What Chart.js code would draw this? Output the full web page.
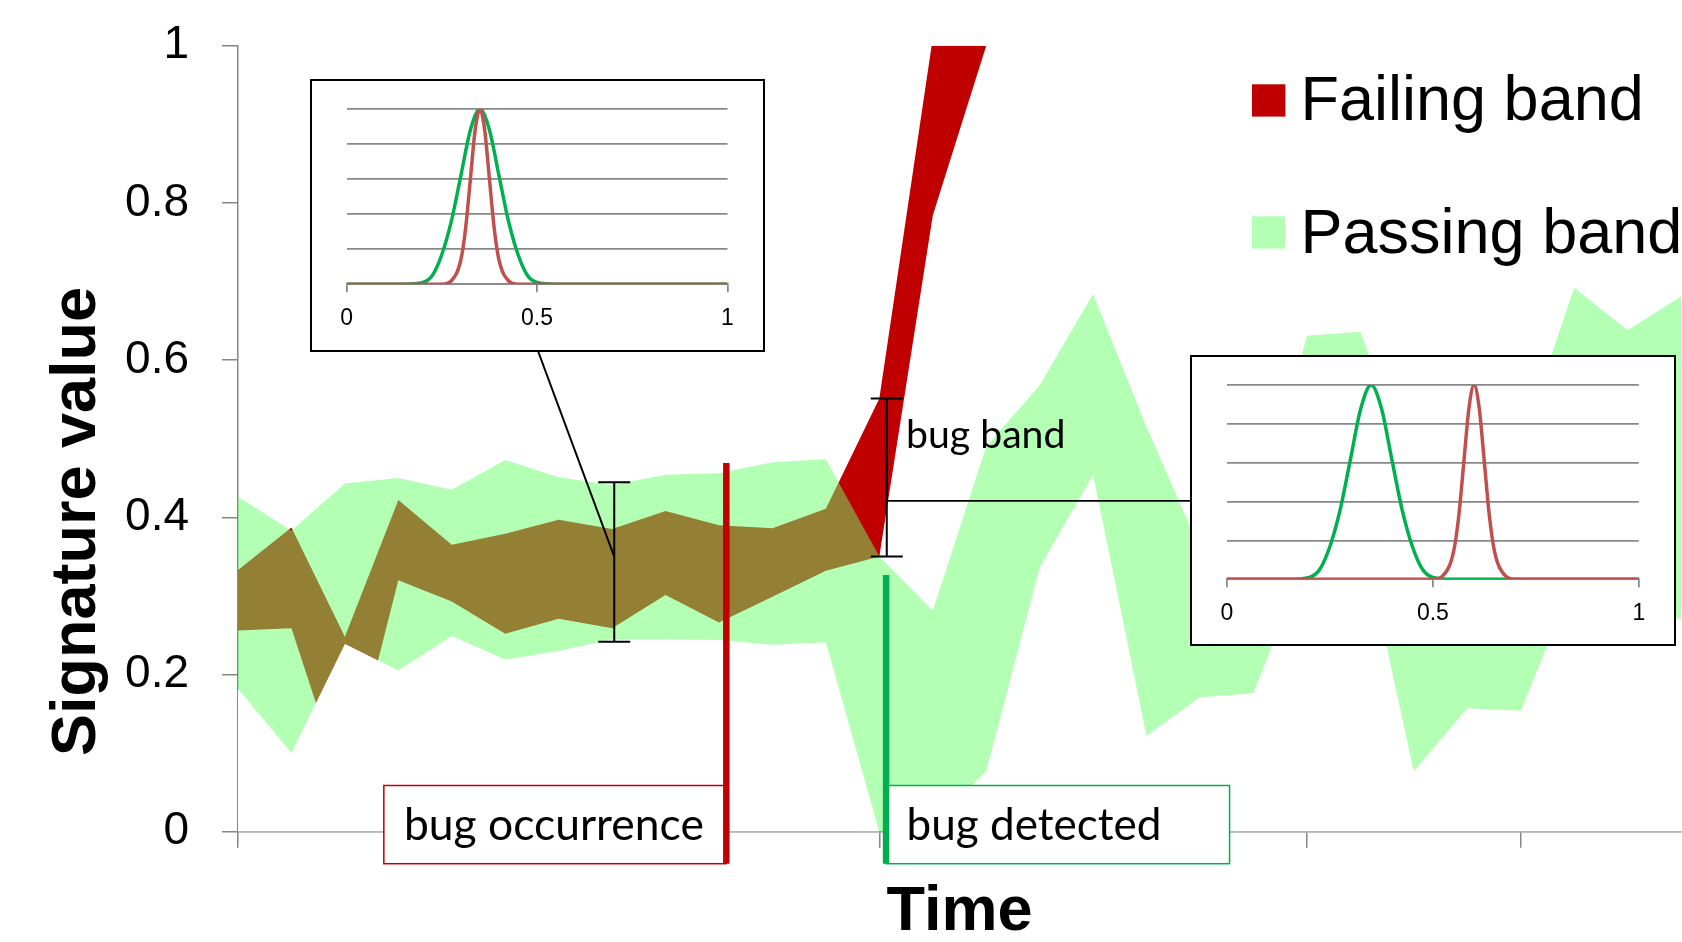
<!DOCTYPE html>
<html>
<head>
<meta charset="utf-8">
<script src="https://cdn.jsdelivr.net/npm/chart.js@4.4.1/dist/chart.umd.min.js"></script>
<style>
  html, body { margin: 0; padding: 0; background: #fff; overflow: hidden; }
  #wrap { position: relative; width: 1682px; height: 942px; }
  #mainChart { position: absolute; left: 0; top: 0; }
  .inset { position: absolute; box-sizing: border-box; border: 2px solid #000; background: #fff; }
  .inset canvas { display: block; }
</style>
</head>
<body>
<div id="wrap">
  <canvas id="mainChart" width="1682" height="942"></canvas>
  <div class="inset" style="left:310px;top:79px;width:455px;height:273px">
    <canvas id="insetChart1" width="451" height="269"></canvas>
  </div>
  <div class="inset" style="left:1189.5px;top:355px;width:486px;height:291px">
    <canvas id="insetChart2" width="482" height="287"></canvas>
  </div>
</div>
<script>
// main chart: time steps and the two bands (lower / upper edge)
const timeSteps = [0, 1, 2, 3, 4, 5, 6, 7, 8, 9, 10, 11, 12, 13, 14, 15, 16, 17, 18, 19, 20, 21, 22, 23, 24, 25, 26, 27];
const passingLow  = [0.182, 0.100, 0.239, 0.205, 0.249, 0.219, 0.230, 0.245, 0.245, 0.244, 0.238, 0.241, 0.000, 0.010,
                     0.077, 0.336, 0.454, 0.122, 0.171, 0.176, 0.350, 0.390, 0.077, 0.157, 0.154, 0.320, 0.300, 0.270];
const passingHigh = [0.426, 0.383, 0.443, 0.450, 0.435, 0.473, 0.451, 0.441, 0.454, 0.456, 0.470, 0.474, 0.350, 0.281,
                     0.490, 0.568, 0.684, 0.515, 0.360, 0.370, 0.631, 0.636, 0.454, 0.420, 0.490, 0.692, 0.638, 0.681];
const failingLow  = [0.256, 0.259, 0.051, 0.320, 0.293, 0.252, 0.271, 0.259, 0.301, 0.266, 0.299, 0.332, 0.350, 0.784,
                     1.000, 1.080, 1.100, 1.090, 1.120, 1.110, 1.130, 1.120, 1.140, 1.130, 1.150, 1.140, 1.160, 1.150];
const failingHigh = [0.333, 0.387, 0.248, 0.422, 0.365, 0.379, 0.397, 0.385, 0.408, 0.390, 0.386, 0.411, 0.551, 1.010,
                     1.350, 1.420, 1.400, 1.450, 1.430, 1.460, 1.440, 1.470, 1.450, 1.480, 1.460, 1.490, 1.470, 1.500];
const yTickValues = [0, 0.2, 0.4, 0.6, 0.8, 1];

// insets: signature distributions (normalised height)
const passDistX = [0, 0.1, 0.15, 0.2, 0.225, 0.25, 0.275, 0.3, 0.325, 0.35, 0.375, 0.4, 0.425, 0.45, 0.475, 0.5, 0.55, 0.6, 0.7, 0.8, 0.9, 1];
const passDistY = [0, 0, 0, 0.01, 0.05, 0.17, 0.36, 0.62, 0.88, 1, 0.88, 0.62, 0.36, 0.17, 0.05, 0.01, 0, 0, 0, 0, 0, 0];
const failDist1X = [0, 0.1, 0.2, 0.25, 0.275, 0.3, 0.3125, 0.325, 0.3375, 0.35, 0.3625, 0.375, 0.3875, 0.4, 0.425, 0.45, 0.5, 0.6, 0.7, 0.8, 0.9, 1];
const failDist1Y = [0, 0, 0, 0, 0.02, 0.14, 0.32, 0.6, 0.88, 1, 0.88, 0.6, 0.32, 0.14, 0.02, 0, 0, 0, 0, 0, 0, 0];
const failDist2X = [0, 0.1, 0.2, 0.3, 0.4, 0.5, 0.525, 0.55, 0.5625, 0.575, 0.5875, 0.6, 0.6125, 0.625, 0.6375, 0.65, 0.675, 0.7, 0.8, 0.9, 1];
const failDist2Y = [0, 0, 0, 0, 0, 0, 0.02, 0.14, 0.32, 0.6, 0.88, 1, 0.88, 0.6, 0.32, 0.14, 0.02, 0, 0, 0, 0];

const RED = '#c00000';
const GREEN_BAND = 'rgba(103, 255, 103, 0.5)';
const LINE_GREEN = '#00b050';
const AXIS_GRAY = '#868686';
const CALIBRI_LIKE = 'Lato';

function pts(xs, ys) {
    return xs.map((x, i) => ({ x: x, y: ys[i] }));
}

// 0.2 -> "0.2", 1 -> "1" (no trailing .0)
function shortLabel(v) {
    return String(Math.round(v * 10) / 10);
}

function fitFont(ctx, text, width, family) {
    ctx.save();
    ctx.font = '100px ' + family;
    const w = ctx.measureText(text).width;
    ctx.restore();
    return 100 * width / w;
}

// annotation anchors (x in time steps, y in signature value)
const errorBar1 = { x: 7.04, lo: 0.2417, hi: 0.4445, link: 0.35 };
const errorBar2 = { x: 12.139, lo: 0.350, hi: 0.551, link: 0.421 };
const occurrence = { x: 9.137, top: 0.469 };
const detection = { x: 12.126, top: 0.3266 };

const notesPlugin = {
    id: 'bugNotes',
    afterDraw(chart) {
        const ctx = chart.ctx;
        const xs = chart.scales.x, ys = chart.scales.y;
        ctx.save();

        // error bars + connectors to the insets
        ctx.strokeStyle = '#000';
        ctx.lineWidth = 2;
        [errorBar1, errorBar2].forEach(b => {
            const px = xs.getPixelForValue(b.x);
            const pLo = ys.getPixelForValue(b.lo), pHi = ys.getPixelForValue(b.hi);
            ctx.beginPath();
            ctx.moveTo(px, pLo); ctx.lineTo(px, pHi);
            ctx.moveTo(px - 16, pLo); ctx.lineTo(px + 16, pLo);
            ctx.moveTo(px - 16, pHi); ctx.lineTo(px + 16, pHi);
            ctx.stroke();
        });
        ctx.beginPath();
        ctx.moveTo(538, 351);
        ctx.lineTo(xs.getPixelForValue(errorBar1.x), ys.getPixelForValue(errorBar1.link));
        ctx.stroke();
        ctx.lineWidth = 1.8;
        ctx.beginPath();
        const l2 = ys.getPixelForValue(errorBar2.link);
        ctx.moveTo(xs.getPixelForValue(errorBar2.x), l2);
        ctx.lineTo(1190, l2);
        ctx.stroke();

        // boxes with labels
        const boxTop = 785.5, boxBottom = 863.7;
        const occX = xs.getPixelForValue(occurrence.x);
        const detX = xs.getPixelForValue(detection.x);
        ctx.fillStyle = '#fff';
        ctx.lineWidth = 1.5;
        ctx.fillRect(occX - 342.5, boxTop, 342.5, boxBottom - boxTop);
        ctx.strokeStyle = RED;
        ctx.strokeRect(occX - 342.5, boxTop, 342.5, boxBottom - boxTop);
        ctx.fillRect(detX, boxTop, 343.5, boxBottom - boxTop);
        ctx.strokeStyle = LINE_GREEN;
        ctx.strokeRect(detX, boxTop, 343.5, boxBottom - boxTop);

        // vertical markers
        ctx.lineWidth = 6.5;
        ctx.strokeStyle = RED;
        ctx.beginPath();
        ctx.moveTo(occX, ys.getPixelForValue(occurrence.top));
        ctx.lineTo(occX, boxBottom);
        ctx.stroke();
        ctx.strokeStyle = LINE_GREEN;
        ctx.beginPath();
        ctx.moveTo(detX, ys.getPixelForValue(detection.top));
        ctx.lineTo(detX, boxBottom);
        ctx.stroke();

        ctx.fillStyle = '#000';
        ctx.textAlign = 'left';
        ctx.textBaseline = 'alphabetic';
        [['bug occurrence', 404, 840, 300], ['bug detected', 906.5, 840, 255], ['bug band', 906, 448.3, 159.5]]
            .forEach(([t, x, y, w]) => {
                ctx.font = fitFont(ctx, t, w, CALIBRI_LIKE).toFixed(1) + 'px ' + CALIBRI_LIKE;
                ctx.fillText(t, x, y);
            });

        // legend
        const items = [chart.data.datasets[2], chart.data.datasets[0]];
        ctx.font = '63px "Liberation Sans"';
        items.forEach((ds, i) => {
            const top = i === 0 ? 84.3 : 216.3;
            ctx.fillStyle = ds.backgroundColor;
            ctx.fillRect(1252, top, 33.4, 32.3);
            ctx.fillStyle = '#000';
            ctx.fillText(ds.label, 1300.5, i === 0 ? 120 : 253);
        });

        // y axis title
        ctx.translate(78, 521.5);
        ctx.rotate(-Math.PI / 2);
        ctx.font = 'bold 63px "Liberation Sans"';
        ctx.textAlign = 'center';
        ctx.textBaseline = 'middle';
        ctx.fillText('Signature value', 0, 0);
        ctx.restore();
    }
};

const hidden = 'rgba(0,0,0,0)';
new Chart(document.getElementById('mainChart'), {
    type: 'line',
    data: {
        datasets: [
            { label: 'Passing band', data: pts(timeSteps, passingHigh), fill: '+1', backgroundColor: GREEN_BAND, borderColor: hidden },
            { label: 'passing low', data: pts(timeSteps, passingLow), fill: 'origin', backgroundColor: '#ffffff', borderColor: hidden },
            { label: 'Failing band', data: pts(timeSteps, failingHigh), fill: '+1', backgroundColor: RED, borderColor: hidden },
            { label: 'failing low', data: pts(timeSteps, failingLow), fill: false, borderColor: hidden }
        ]
    },
    options: {
        responsive: false,
        animation: false,
        devicePixelRatio: 1,
        layout: { padding: { top: 45.7, right: 1, bottom: 0, left: 0 } },
        elements: { point: { radius: 0 }, line: { borderWidth: 0, tension: 0 } },
        plugins: { legend: { display: false }, tooltip: { enabled: false } },
        scales: {
            x: {
                type: 'linear', min: 0, max: 27, z: 1,
                ticks: { display: false, stepSize: 4 },
                afterBuildTicks: s => { s.ticks = s.ticks.filter(t => t.value % 4 === 0); },
                grid: { drawOnChartArea: false, tickLength: 16, color: AXIS_GRAY, lineWidth: 1.5 },
                border: { color: AXIS_GRAY, width: 1.5 },
                title: {
                    display: true, text: 'Time', color: '#000',
                    font: { family: 'Liberation Sans', size: 63, weight: 'bold', lineHeight: 0.8 },
                    padding: { top: 0, bottom: 4 }
                },
                afterFit: s => { s.height = 110.3; }
            },
            y: {
                min: 0, max: 1, z: 1,
                afterBuildTicks: s => { s.ticks = yTickValues.map(v => ({ value: v })); },
                ticks: {
                    padding: 33, color: '#000', callback: shortLabel,
                    font: { family: 'Liberation Sans', size: 46, lineHeight: 0.5 }
                },
                grid: { drawOnChartArea: false, tickLength: 16, color: AXIS_GRAY, lineWidth: 1.5 },
                border: { color: AXIS_GRAY, width: 1.5 },
                afterFit: s => { s.width = 238; }
            }
        }
    },
    plugins: [notesPlugin]
});

function makeInset(id, failX, failY, pad) {
    return new Chart(document.getElementById(id), {
        type: 'line',
        data: {
            datasets: [
                { data: pts(failX, failY), borderColor: '#c0504d' },
                { data: pts(passDistX, passDistY), borderColor: LINE_GREEN }
            ]
        },
        options: {
            responsive: false,
            animation: false,
            devicePixelRatio: 1,
            layout: { padding: { top: pad.top, right: pad.right, bottom: 0, left: pad.left } },
            elements: { point: { radius: 0 }, line: { borderWidth: 3.5, cubicInterpolationMode: 'monotone', fill: false } },
            plugins: { legend: { display: false }, tooltip: { enabled: false } },
            scales: {
                x: {
                    type: 'linear', min: 0, max: 1,
                    ticks: {
                        stepSize: 0.5, padding: 13, maxRotation: 0, color: '#000', callback: shortLabel,
                        font: { family: 'Liberation Sans', size: 23 }
                    },
                    grid: { drawOnChartArea: false, tickLength: 8, color: '#888', lineWidth: 1.75 },
                    border: { color: '#888', width: 1.75 },
                    afterFit: s => { s.height = pad.bottom; }
                },
                y: {
                    min: 0, max: 1,
                    ticks: { display: false, stepSize: 0.2 },
                    grid: { drawTicks: false, color: '#888', lineWidth: 1.75 },
                    border: { display: false },
                    afterFit: s => { s.width = 0; }
                }
            }
        }
    });
}

makeInset('insetChart1', failDist1X, failDist1Y, { top: 28, right: 35.5, bottom: 65.7, left: 34.6 });
makeInset('insetChart2', failDist2X, failDist2Y, { top: 28, right: 35.2, bottom: 64.7, left: 35 });
</script>
</body>
</html>
